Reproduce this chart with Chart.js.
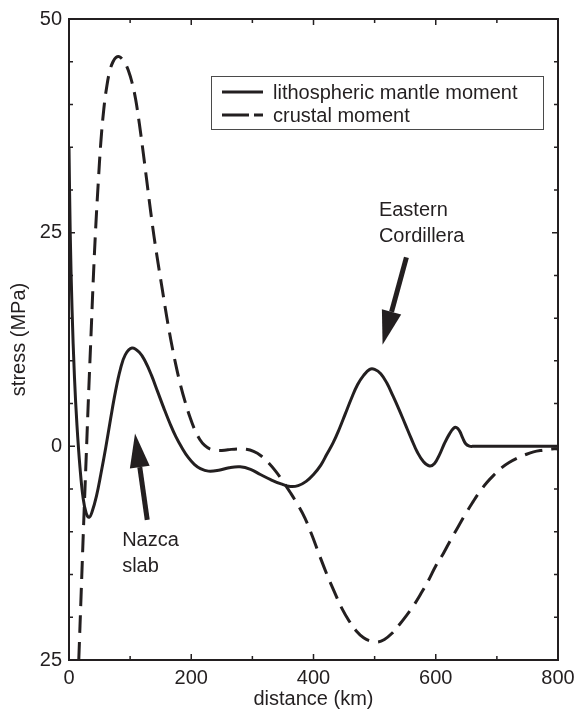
<!DOCTYPE html>
<html>
<head>
<meta charset="utf-8">
<script src="https://cdn.jsdelivr.net/npm/chart.js@4.4.0/dist/chart.umd.min.js"></script>
<style>
  html, body { margin: 0; padding: 0; background: #fff; }
  #wrap { width: 582px; height: 712px; }
</style>
</head>
<body>
<div id="wrap"><canvas id="stressChart" width="582" height="712"></canvas></div>
<script>
// distance (km) / stress (MPa)
const mantleDist   = [0, 2, 5, 9, 13, 18, 23, 28, 33, 38, 45, 52, 60, 68, 76, 84, 92, 103, 115, 125, 135, 145, 155, 165, 175, 185, 195, 205, 215, 228, 245, 262, 280, 297, 313, 330, 347, 362, 375, 388, 400, 412, 422, 432, 442, 452, 462, 472, 482, 492, 500, 510, 520, 530, 540, 550, 560, 570, 580, 590, 598, 606, 614, 622, 629, 634, 639, 644, 649, 655, 662, 800];
const mantleStress = [35, 25, 16, 8, 2.5, -2.5, -6, -7.8, -8.3, -7.6, -5.8, -3.3, -0.2, 3.2, 6.4, 9, 10.7, 11.5, 11, 9.9, 8.3, 6.4, 4.5, 2.7, 1.1, -0.2, -1.3, -2.1, -2.6, -2.9, -2.8, -2.5, -2.4, -2.7, -3.3, -3.9, -4.4, -4.7, -4.6, -4.1, -3.3, -2.2, -0.9, 0.4, 2, 3.8, 5.6, 7.2, 8.3, 9, 9, 8.5, 7.4, 5.9, 4.3, 2.6, 0.9, -0.7, -1.8, -2.3, -2, -1, 0.3, 1.4, 2.1, 2.2, 1.8, 1, 0.3, 0.03, 0, 0];

const crustDist   = [16, 20, 24, 28, 32, 36, 40, 44, 48, 52, 57, 62, 67, 72, 77, 82, 87, 92, 97, 103, 109, 115, 121, 127, 133, 139, 146, 153, 160, 167, 174, 182, 190, 198, 206, 214, 222, 232, 245, 260, 275, 290, 302, 314, 326, 338, 350, 362, 374, 386, 398, 410, 422, 434, 446, 458, 470, 482, 494, 505, 516, 528, 540, 552, 564, 576, 588, 600, 612, 624, 636, 648, 660, 672, 684, 696, 708, 720, 733, 746, 760, 775, 790, 800];
const crustStress = [-25, -17, -9, -1.5, 6, 13, 20, 26, 31, 35.5, 39.5, 42.2, 44, 45, 45.5, 45.6, 45.3, 44.8, 44, 42.6, 40.6, 37.8, 34.6, 31.2, 27.8, 24.6, 21.3, 18.2, 15.1, 12.3, 9.8, 7.3, 5.2, 3.4, 1.9, 0.8, 0.1, -0.35, -0.5, -0.4, -0.3, -0.35, -0.6, -1.1, -1.9, -2.9, -4.1, -5.4, -6.8, -8.4, -10.5, -12.8, -15, -17, -18.9, -20.4, -21.6, -22.4, -22.8, -22.9, -22.6, -21.9, -20.9, -19.8, -18.6, -17.2, -15.7, -14, -12.6, -11, -9.5, -8, -6.6, -5.3, -4.2, -3.3, -2.5, -1.9, -1.4, -1, -0.65, -0.45, -0.3, -0.3];

const seriesLabels = ['lithospheric mantle moment', 'crustal moment'];
const xTicks = [0, 200, 400, 600, 800];
const yTickValues = [-25, 0, 25, 50];
const yTickLabels = ['25', '0', '25', '50'];

// annotation text + arrows, in data units
const notes = [
  { lines: ['Nazca', 'slab'], at: [87, -11.7], lineGap: 26, tip: [108, 1.5], tail: [128, -8.6] },
  { lines: ['Eastern', 'Cordillera'], at: [507, 26.9], lineGap: 26, tip: [513, 11.9], tail: [552, 22.1] }
];

const INK = '#231f20';
const FONT = '"Liberation Sans", Arial, Helvetica, sans-serif';
Chart.defaults.font.family = FONT;
Chart.defaults.font.size = 20;
Chart.defaults.color = INK;

function drawArrow(ctx, x1, y1, x2, y2) {
  const ang = Math.atan2(y2 - y1, x2 - x1);
  const headLen = 34, headW = 10;
  const bx = x2 - Math.cos(ang) * headLen, by = y2 - Math.sin(ang) * headLen;
  ctx.beginPath();
  ctx.moveTo(x1, y1);
  ctx.lineTo(bx, by);
  ctx.lineWidth = 5;
  ctx.strokeStyle = INK;
  ctx.stroke();
  ctx.beginPath();
  ctx.moveTo(x2, y2);
  ctx.lineTo(bx + Math.sin(ang) * headW, by - Math.cos(ang) * headW);
  ctx.lineTo(bx - Math.sin(ang) * headW, by + Math.cos(ang) * headW);
  ctx.closePath();
  ctx.fillStyle = INK;
  ctx.fill();
}

const frameAndNotes = {
  id: 'frameAndNotes',
  afterDatasetsDraw(chart) {
    const { ctx, chartArea: ca, scales: { x, y } } = chart;
    ctx.save();

    // frame
    ctx.strokeStyle = INK;
    ctx.lineWidth = 2;
    ctx.strokeRect(ca.left, ca.top, ca.right - ca.left, ca.bottom - ca.top);

    // inward tick marks on all four sides
    ctx.lineWidth = 1.5;
    ctx.beginPath();
    for (let v = 0; v <= 800; v += 100) {
      const px = x.getPixelForValue(v);
      const len = v % 200 === 0 ? 6 : 4;
      ctx.moveTo(px, ca.bottom); ctx.lineTo(px, ca.bottom - len);
      ctx.moveTo(px, ca.top); ctx.lineTo(px, ca.top + len);
    }
    for (let v = -25; v <= 50; v += 5) {
      const py = y.getPixelForValue(v);
      const len = v % 25 === 0 ? 6 : 4;
      ctx.moveTo(ca.left, py); ctx.lineTo(ca.left + len, py);
      ctx.moveTo(ca.right, py); ctx.lineTo(ca.right - len, py);
    }
    ctx.stroke();

    // arrows and labels
    ctx.font = '20px ' + FONT;
    ctx.fillStyle = INK;
    ctx.textAlign = 'left';
    ctx.textBaseline = 'alphabetic';
    notes.forEach(n => {
      drawArrow(ctx,
        x.getPixelForValue(n.tail[0]), y.getPixelForValue(n.tail[1]),
        x.getPixelForValue(n.tip[0]), y.getPixelForValue(n.tip[1]));
      const tx = x.getPixelForValue(n.at[0]);
      const ty = y.getPixelForValue(n.at[1]);
      ctx.fillStyle = INK;
      n.lines.forEach((t, i) => ctx.fillText(t, tx, ty + i * n.lineGap));
    });

    // legend box
    const bl = ca.left + 142, bt = ca.top + 57, bw = 332, bh = 53;
    ctx.fillStyle = '#fff';
    ctx.fillRect(bl, bt, bw, bh);
    ctx.lineWidth = 1;
    ctx.strokeStyle = '#4a4a4a';
    ctx.strokeRect(bl + 0.5, bt + 0.5, bw, bh);
    chart.data.datasets.forEach((ds, i) => {
      const ry = bt + 16 + i * 23;
      ctx.beginPath();
      ctx.setLineDash(i === 0 ? [] : [27, 5]);
      ctx.lineWidth = 3;
      ctx.strokeStyle = INK;
      ctx.moveTo(bl + 11, ry);
      ctx.lineTo(bl + 52, ry);
      ctx.stroke();
      ctx.setLineDash([]);
      ctx.fillStyle = INK;
      ctx.textBaseline = 'middle';
      ctx.fillText(ds.label, bl + 62, ry + 1);
    });

    ctx.restore();
  }
};

new Chart(document.getElementById('stressChart'), {
  type: 'line',
  data: {
    datasets: [
      {
        label: seriesLabels[0],
        data: mantleDist.map((d, i) => ({ x: d, y: mantleStress[i] })),
        borderColor: INK,
        borderWidth: 3,
        pointRadius: 0,
        tension: 0.4,
        fill: false
      },
      {
        label: seriesLabels[1],
        data: crustDist.map((d, i) => ({ x: d, y: crustStress[i] })),
        borderColor: INK,
        borderWidth: 3,
        borderDash: [18, 9],
        pointRadius: 0,
        tension: 0.4,
        fill: false
      }
    ]
  },
  options: {
    responsive: false,
    animation: false,
    devicePixelRatio: 1,
    layout: { padding: { top: 16, right: 24, left: 0, bottom: 0 } },
    plugins: { legend: { display: false }, tooltip: { enabled: false } },
    scales: {
      x: {
        type: 'linear',
        min: 0,
        max: 800,
        grid: { display: false, drawTicks: false },
        border: { display: false },
        afterBuildTicks: s => { s.ticks = xTicks.map(v => ({ value: v })); },
        afterFit: s => { s.height = 52; },
        ticks: { padding: 6, maxRotation: 0, color: INK },
        title: { display: true, text: 'distance (km)', color: INK, padding: { top: 0, bottom: 1 } }
      },
      y: {
        type: 'linear',
        min: -25,
        max: 50,
        grid: { display: false, drawTicks: false },
        border: { display: false },
        afterBuildTicks: s => { s.ticks = yTickValues.map(v => ({ value: v })); },
        afterFit: s => { s.width = 69; },
        ticks: {
          padding: 7,
          color: INK,
          callback: v => yTickLabels[yTickValues.indexOf(v)]
        },
        title: { display: true, text: 'stress (MPa)', color: INK, padding: { top: 7, bottom: 0 } }
      }
    }
  },
  plugins: [frameAndNotes]
});
</script>
</body>
</html>
